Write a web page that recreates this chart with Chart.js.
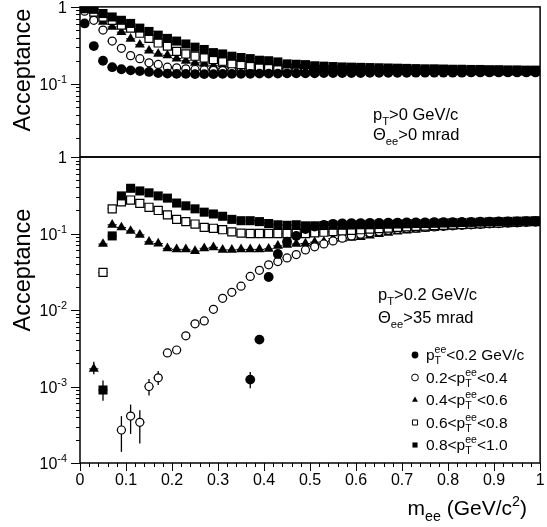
<!DOCTYPE html>
<html>
<head>
<meta charset="utf-8">
<script src="https://cdn.jsdelivr.net/npm/chart.js@4/dist/chart.umd.min.js"></script>
<style>
  body { margin: 0; background: #fff; }
  #wrap { position: relative; width: 547px; height: 527px; }
  canvas { position: absolute; left: 0; top: 0; }
</style>
</head>
<body>
<div id="wrap">
  <canvas id="topChart" width="547" height="527"></canvas>
  <canvas id="botChart" width="547" height="527"></canvas>
</div>
<script>
// pair mass bins (GeV/c^2)
const mass = [0.01, 0.03, 0.05, 0.07, 0.09, 0.11, 0.13, 0.15, 0.17, 0.19,
  0.21, 0.23, 0.25, 0.27, 0.29, 0.31, 0.33, 0.35, 0.37, 0.39,
  0.41, 0.43, 0.45, 0.47, 0.49, 0.51, 0.53, 0.55, 0.57, 0.59,
  0.61, 0.63, 0.65, 0.67, 0.69, 0.71, 0.73, 0.75, 0.77, 0.79,
  0.81, 0.83, 0.85, 0.87, 0.89, 0.91, 0.93, 0.95, 0.97, 0.99];

// top panel: pT>0, theta_ee>0
const topPt02 = [0.61, 0.31, 0.20, 0.165, 0.155, 0.150, 0.147, 0.143, 0.138, 0.136,
  0.135, 0.135, 0.134, 0.134, 0.134, 0.135, 0.135, 0.135, 0.135, 0.136,
  0.136, 0.136, 0.137, 0.137, 0.137, 0.137, 0.138, 0.138, 0.138, 0.138,
  0.138, 0.139, 0.139, 0.139, 0.139, 0.139, 0.140, 0.140, 0.140, 0.140,
  0.140, 0.140, 0.141, 0.141, 0.141, 0.141, 0.141, 0.141, 0.141, 0.141];
const topPt04 = [0.88, 0.67, 0.50, 0.36, 0.29, 0.233, 0.213, 0.188, 0.179, 0.165,
  0.162, 0.157, 0.154, 0.152, 0.150, 0.149, 0.148, 0.147, 0.146, 0.146,
  0.145, 0.145, 0.145, 0.144, 0.144, 0.144, 0.144, 0.143, 0.143, 0.143,
  0.143, 0.143, 0.143, 0.143, 0.142, 0.142, 0.142, 0.142, 0.142, 0.142,
  0.142, 0.142, 0.142, 0.142, 0.142, 0.142, 0.142, 0.142, 0.142, 0.142];
const topPt06 = [0.97, 0.74, 0.64, 0.55, 0.47, 0.385, 0.323, 0.27, 0.245, 0.235,
  0.213, 0.200, 0.188, 0.182, 0.172, 0.168, 0.164, 0.160, 0.158, 0.156,
  0.154, 0.153, 0.152, 0.151, 0.150, 0.150, 0.149, 0.149, 0.148, 0.148,
  0.148, 0.147, 0.147, 0.147, 0.147, 0.146, 0.146, 0.146, 0.146, 0.146,
  0.145, 0.145, 0.145, 0.145, 0.145, 0.145, 0.145, 0.145, 0.145, 0.145];
const topPt08 = [0.95, 0.86, 0.74, 0.67, 0.58, 0.53, 0.455, 0.39, 0.34, 0.31,
  0.265, 0.245, 0.229, 0.217, 0.207, 0.197, 0.183, 0.179, 0.170, 0.165,
  0.165, 0.162, 0.160, 0.158, 0.157, 0.156, 0.155, 0.155, 0.154, 0.154,
  0.153, 0.153, 0.152, 0.152, 0.151, 0.151, 0.151, 0.150, 0.150, 0.150,
  0.149, 0.149, 0.149, 0.149, 0.148, 0.148, 0.148, 0.148, 0.148, 0.148];
const topPt10 = [0.97, 0.93, 0.82, 0.74, 0.67, 0.61, 0.53, 0.48, 0.43, 0.39,
  0.36, 0.33, 0.30, 0.28, 0.255, 0.245, 0.229, 0.220, 0.213, 0.203,
  0.200, 0.193, 0.182, 0.180, 0.178, 0.172, 0.170, 0.168, 0.166, 0.165,
  0.164, 0.163, 0.162, 0.161, 0.160, 0.159, 0.158, 0.157, 0.157, 0.156,
  0.155, 0.155, 0.154, 0.154, 0.153, 0.153, 0.152, 0.152, 0.151, 0.151];

// bottom panel: pT>0.2, theta_ee>35 mrad
const botPt02 = [null, null, null, null, null, null, null, null, null, null,
  null, null, null, null, null, null, null, null, 0.00123, 0.0041,
  0.027, 0.054, 0.078, 0.093, 0.114, 0.123, 0.130, 0.134, 0.136, 0.137,
  0.137, 0.138, 0.138, 0.139, 0.139, 0.140, 0.140, 0.140, 0.141, 0.141,
  0.141, 0.142, 0.142, 0.143, 0.143, 0.144, 0.144, 0.144, 0.145, 0.145];
const botPt04 = [null, null, null, null, 0.00027, 0.00041, 0.00034, 0.0010, 0.0013, 0.00275,
  0.0030, 0.0046, 0.0066, 0.0072, 0.0102, 0.0142, 0.017, 0.0205, 0.0275, 0.033,
  0.039, 0.043, 0.048, 0.053, 0.061, 0.067, 0.073, 0.080, 0.087, 0.093,
  0.098, 0.102, 0.106, 0.110, 0.113, 0.116, 0.118, 0.120, 0.122, 0.124,
  0.126, 0.128, 0.130, 0.132, 0.134, 0.135, 0.137, 0.138, 0.140, 0.141];
const botPt06 = [null, 0.0017, 0.073, 0.13, 0.12, 0.108, 0.096, 0.078, 0.074, 0.064,
  0.062, 0.062, 0.059, 0.064, 0.066, 0.061, 0.061, 0.062, 0.062, 0.062,
  0.063, 0.069, 0.071, 0.073, 0.074, 0.077, 0.078, 0.086, 0.086, 0.088,
  0.090, 0.094, 0.098, 0.102, 0.106, 0.109, 0.112, 0.115, 0.118, 0.120,
  0.123, 0.125, 0.127, 0.129, 0.131, 0.133, 0.135, 0.137, 0.139, 0.140];
const botPt08 = [null, null, 0.031, 0.21, 0.26, 0.274, 0.248, 0.22, 0.20, 0.175,
  0.153, 0.143, 0.133, 0.120, 0.117, 0.112, 0.105, 0.101, 0.100, 0.100,
  0.100, 0.100, 0.100, 0.100, 0.100, 0.102, 0.104, 0.106, 0.108, 0.110,
  0.112, 0.114, 0.116, 0.118, 0.120, 0.122, 0.124, 0.125, 0.127, 0.128,
  0.130, 0.131, 0.133, 0.134, 0.136, 0.137, 0.139, 0.140, 0.142, 0.143];
const botPt10 = [null, null, 0.0009, 0.093, 0.31, 0.39, 0.36, 0.34, 0.31, 0.29,
  0.25, 0.23, 0.21, 0.19, 0.18, 0.168, 0.153, 0.147, 0.147, 0.143,
  0.135, 0.130, 0.128, 0.130, 0.126, 0.126, 0.127, 0.128, 0.128, 0.129,
  0.130, 0.130, 0.131, 0.132, 0.133, 0.134, 0.135, 0.135, 0.136, 0.137,
  0.138, 0.139, 0.140, 0.141, 0.142, 0.143, 0.144, 0.145, 0.146, 0.147];

// statistical error bars of the sparse low-mass points (bottom panel)
const errMass = [0.03, 0.05, 0.09, 0.11, 0.13, 0.15, 0.17, 0.37, 0.39];
const errLow = [0.00145, 0.00065, 0.00014, 0.00024, 0.00018, 0.00076, 0.00105, 0.00095, 0.0037];
const errHigh = [0.0021, 0.0012, 0.00041, 0.00058, 0.00049, 0.00125, 0.0016, 0.00155, 0.0046];

const yTopTicks = [1, 0.1];
const yBotTicks = [1, 0.1, 0.01, 0.001, 0.0001];
const xTickLabels = ["0", "0.1", "0.2", "0.3", "0.4", "0.5", "0.6", "0.7", "0.8", "0.9", "1"];

const FONT = "'Liberation Sans', Arial, sans-serif";
const binHalf = 0.01;

// marker looks: filled circle, open circle, filled triangle, open square, filled square
const markers = [
  { style: "circle", r: 4.9, fill: "#000", bw: 0 },
  { style: "circle", r: 4.0, fill: "#fff", bw: 1.2 },
  { style: "triangle", r: 5.8, fill: "#000", bw: 0 },
  { style: "rect", r: 5.7, fill: "#fff", bw: 1.2 },
  { style: "rect", r: 6.4, fill: "#000", bw: 0 },
];
const drawOrder = [0, 3, 4, 2, 1];

const toPoints = (vals) =>
  mass.map((m, i) => ({ x: m, y: vals[i] })).filter((p) => p.y !== null);

// text with sub / superscripts: parts = [[text, sub, sup], ...]
function drawRich(ctx, parts, x, y, size, align) {
  const small = size * 0.68;
  let w = 0;
  const widths = parts.map((p) => {
    ctx.font = size + "px " + FONT;
    let a = ctx.measureText(p[0]).width;
    ctx.font = small + "px " + FONT;
    let b = Math.max(p[1] ? ctx.measureText(p[1]).width : 0, p[2] ? ctx.measureText(p[2]).width : 0);
    w += a + b;
    return [a, b];
  });
  let cx = align === "right" ? x - w : x;
  ctx.textAlign = "left";
  ctx.textBaseline = "alphabetic";
  parts.forEach((p, i) => {
    ctx.font = size + "px " + FONT;
    ctx.fillText(p[0], cx, y);
    cx += widths[i][0];
    ctx.font = small + "px " + FONT;
    if (p[1]) ctx.fillText(p[1], cx, y + size * 0.28);
    if (p[2]) ctx.fillText(p[2], cx, y - size * 0.42);
    cx += widths[i][1];
  });
}

function drawMarker(ctx, m, x, y, s) {
  ctx.save();
  ctx.fillStyle = m.fill;
  ctx.strokeStyle = "#000";
  ctx.lineWidth = 1;
  ctx.beginPath();
  if (m.style === "circle") ctx.arc(x, y, s, 0, Math.PI * 2);
  else if (m.style === "triangle") {
    ctx.moveTo(x, y - s);
    ctx.lineTo(x + s * 0.87, y + s * 0.5);
    ctx.lineTo(x - s * 0.87, y + s * 0.5);
    ctx.closePath();
  } else ctx.rect(x - s * 0.75, y - s * 0.75, s * 1.5, s * 1.5);
  ctx.fill();
  if (m.fill === "#fff") ctx.stroke();
  ctx.restore();
}

const axesPlugin = {
  id: "axes",
  beforeDatasetsDraw(chart, args, opts) {
    const ctx = chart.ctx;
    const xs = chart.scales.x, ys = chart.scales.y;
    ctx.save();
    ctx.strokeStyle = "#000";
    ctx.lineWidth = 1;
    chart.data.datasets.forEach((ds) => {
      ds.data.forEach((p) => {
        const py = ys.getPixelForValue(p.y);
        ctx.beginPath();
        ctx.moveTo(xs.getPixelForValue(p.x - binHalf), py);
        ctx.lineTo(xs.getPixelForValue(p.x + binHalf), py);
        ctx.stroke();
      });
    });
    if (opts.errors) {
      ctx.lineWidth = 1.3;
      errMass.forEach((m, i) => {
        const px = xs.getPixelForValue(m);
        ctx.beginPath();
        ctx.moveTo(px, ys.getPixelForValue(errLow[i]));
        ctx.lineTo(px, ys.getPixelForValue(errHigh[i]));
        ctx.stroke();
      });
    }
    ctx.restore();
  },
  afterDraw(chart, args, opts) {
    const ctx = chart.ctx;
    const a = chart.chartArea;
    const xs = chart.scales.x, ys = chart.scales.y;
    ctx.save();
    ctx.strokeStyle = "#000";
    ctx.fillStyle = "#000";
    ctx.lineWidth = 1.5;
    ctx.strokeRect(a.left, a.top, a.right - a.left, a.bottom - a.top);

    // log y ticks, pointing outwards
    ctx.lineWidth = 1;
    const e0 = Math.floor(Math.log10(ys.min)), e1 = Math.ceil(Math.log10(ys.max));
    for (let e = e0; e <= e1; e++) {
      for (let m = 1; m <= 9; m++) {
        const v = m * Math.pow(10, e);
        if (v < ys.min * 0.999 || v > ys.max * 1.001) continue;
        const py = Math.round(ys.getPixelForValue(v)) + 0.5;
        ctx.beginPath();
        ctx.moveTo(a.left - (m === 1 ? 9 : 4), py);
        ctx.lineTo(a.left, py);
        ctx.stroke();
      }
    }
    opts.yLabels.forEach((v) => {
      const py = ys.getPixelForValue(v);
      const e = Math.round(Math.log10(v));
      const parts = e === 0 ? [["1"]] : [["10", null, "-" + -e]];
      drawRich(ctx, parts, 67, py + 6, 16, "right");
    });

    if (opts.xAxis) {
      for (let i = 0; i <= 50; i++) {
        const px = Math.round(xs.getPixelForValue(i / 50)) + 0.5;
        ctx.beginPath();
        ctx.moveTo(px, a.bottom);
        ctx.lineTo(px, a.bottom + (i % 5 === 0 ? 8 : 4));
        ctx.stroke();
      }
      ctx.font = "16px " + FONT;
      ctx.textAlign = "center";
      ctx.textBaseline = "alphabetic";
      xTickLabels.forEach((t) => {
        ctx.fillText(t, xs.getPixelForValue(parseFloat(t)), a.bottom + 22);
      });
      drawRich(ctx, [["m", "ee"], [" (GeV/c", null, "2"], [")"]], 527, 515, 21, "right");
    }

    // y title
    ctx.save();
    ctx.translate(30, opts.titleY);
    ctx.rotate(-Math.PI / 2);
    ctx.font = "23.5px " + FONT;
    ctx.textAlign = "center";
    ctx.textBaseline = "alphabetic";
    ctx.fillText("Acceptance", 0, 0);
    ctx.restore();

    // cut labels
    drawRich(ctx, opts.cut1, opts.cutX, opts.cutY[0], 16.5, "left");
    drawRich(ctx, opts.cut2, opts.cutX, opts.cutY[1], 16.5, "left");

    if (opts.legend) {
      const labels = [
        [["p", "T", "ee"], ["<0.2 GeV/c"]],
        [["0.2<p", "T", "ee"], ["<0.4"]],
        [["0.4<p", "T", "ee"], ["<0.6"]],
        [["0.6<p", "T", "ee"], ["<0.8"]],
        [["0.8<p", "T", "ee"], ["<1.0"]],
      ];
      labels.forEach((l, i) => {
        const by = 360 + i * 22.5;
        drawMarker(ctx, markers[i], 415, by - 5, 3.4);
        drawRich(ctx, l, 426, by, 15.5, "left");
      });
    }
    ctx.restore();
  },
};

function makeChart(id, series, yMin, padTop, padBottom, extra) {
  const datasets = series.map((vals, i) => ({
    data: toPoints(vals),
    pointStyle: markers[i].style,
    pointRadius: markers[i].r,
    backgroundColor: markers[i].fill,
    borderColor: "#000",
    borderWidth: markers[i].bw,
    showLine: false,
    order: drawOrder[i],
  }));
  return new Chart(document.getElementById(id), {
    type: "scatter",
    data: { datasets: datasets },
    options: {
      responsive: false,
      animation: false,
      events: [],
      layout: { padding: { left: 80, right: 3, top: padTop, bottom: padBottom } },
      plugins: { legend: { display: false }, tooltip: { enabled: false }, axes: extra },
      scales: {
        x: { type: "linear", min: 0, max: 1, display: false },
        y: { type: "logarithmic", min: yMin, max: 1, display: false },
      },
    },
    plugins: [axesPlugin],
  });
}

makeChart("topChart", [topPt02, topPt04, topPt06, topPt08, topPt10], 0.01125, 5, 370, {
  yLabels: yTopTicks,
  xAxis: false,
  titleY: 70,
  cut1: [["p", "T"], [">0 GeV/c"]],
  cut2: [["\u0398", "ee"], [">0 mrad"]],
  cutX: 373,
  cutY: [120, 140],
  legend: false,
  errors: false,
});

makeChart("botChart", [botPt02, botPt04, botPt06, botPt08, botPt10], 0.0001, 157, 64, {
  yLabels: yBotTicks,
  xAxis: true,
  titleY: 270,
  cut1: [["p", "T"], [">0.2 GeV/c"]],
  cut2: [["\u0398", "ee"], [">35 mrad"]],
  cutX: 378,
  cutY: [300, 323],
  legend: true,
  errors: true,
});
</script>
</body>
</html>
